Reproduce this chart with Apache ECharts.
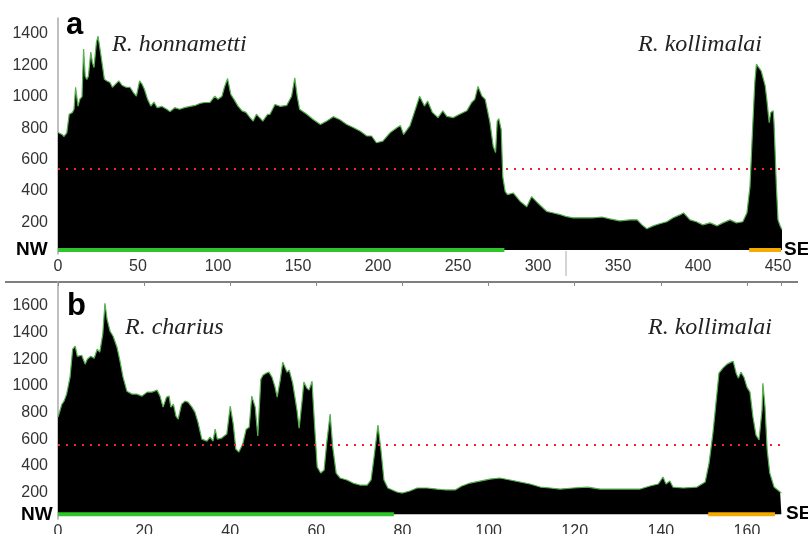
<!DOCTYPE html>
<html>
<head>
<meta charset="utf-8">
<script src="https://cdn.jsdelivr.net/npm/echarts@6/dist/echarts.min.js"></script>
<style>html,body{margin:0;padding:0;background:#fff;}#c{width:808px;height:534px;}</style>
</head>
<body>
<div id="c"></div>
<script>
// ---- Panel a (top) ----
const topX = [0,2.5,3.75,5.5,7,9,10,11,12.5,13.7,15,16,17,18,19,20.5,21.5,22.5,24,25,26,27.5,29,30.6,32.5,34,36,38,40,42.5,45,47,49,51,52.5,54,56,58,60,62,65,68,70,73,76,79,82.5,86,89,92,95,98,100,102.5,104,106,108,110,112.5,115,117.5,120,122,124,126,128,131,132.5,135.6,139,143,146,148,149.5,151,155.5,159.5,164,168,172,176,180.5,184.5,189,193,196,199,203,207.5,212,214,216,220,224,226,229,231,234,237.5,240.5,243,247,251,255.5,258.5,260.5,262.5,265,267,268,270,272,273.5,274.5,275.5,277,278,279.5,281,284.5,289,293,296,299,301,305.5,309,314,318,322,328,334,340,345,351,357.5,362,365,368,372,376,380.5,384.5,389,391,395,399,403,407.5,412,415.5,420,424,428,430.6,432.5,434,435.5,436.5,438,439.5,440.5,442,443,444.5,445.5,447,447.5,449,450,451.5,452.5];
const topY = [772,760,747,770,888,900,920,1060,940,985,1000,1303,1130,1110,1130,1284,1216,1185,1345,1384,1320,1216,1110,1100,1090,1060,1080,1100,1073,1060,1060,1028,1003,1100,1080,1047,983,940,965,930,938,920,905,930,920,930,938,945,958,963,963,1003,983,1003,1060,1115,1015,983,940,910,900,867,845,888,867,845,888,888,950,938,945,1003,1120,1003,920,888,855,823,845,873,855,823,804,780,750,750,707,717,770,804,816,760,816,940,1003,940,972,900,867,910,875,867,888,910,963,983,1065,1003,983,995,835,685,645,845,860,790,490,397,377,388,333,300,365,333,313,270,262,250,237,230,230,230,235,223,211,217,217,185,160,179,192,205,230,250,262,217,205,185,198,179,198,217,198,205,262,430,770,1090,1207,1185,1163,1170,1068,983,835,900,910,835,430,217,175,155];
const topYTicks = {min: 0, max: 1500, interval: 200};
const topXTicks = {min: 0, max: 452.5, interval: 50};
const topThreshold = 540;
const topGreen = [0, 279];
const topOrange = [432, 452];

// ---- Panel b (bottom) ----
const botX = [0,0.9,1.4,2,2.8,3.4,4,4.5,5.5,6.3,6.8,7.6,8.4,9.1,9.7,10.4,10.9,11.4,12.1,12.8,13.7,14.4,15.1,16,17.2,18.3,19.5,20.7,21.8,23,23.7,24.4,25.2,25.8,26.2,26.8,27.4,27.9,28.7,29.5,30.2,31.1,31.8,32.5,33.4,34.6,35.3,36,36.5,37,38,39.2,40,40.7,41.3,42,42.9,43.7,44.4,45,45.8,46.4,47.1,47.6,48.3,49,49.7,50.4,50.9,51.6,52.2,52.7,53.2,53.7,54.5,55.5,56,56.7,57.1,57.8,58.3,59,59.2,59.7,60.2,61,61.8,62.4,63.2,63.8,64.6,65.5,67.1,68.5,70.1,71.8,72.7,73.4,74.3,75,75.7,76.6,78.7,80,81.7,83.4,85.7,88,90.3,92.2,93.8,95.7,98,100.3,102.6,105,107.3,109.6,111.2,112,114.3,116.6,119.6,123,125.9,128.9,132.1,135.2,137.5,139.4,140.5,141.2,142.1,142.8,145.2,148.4,150.3,151.2,152.1,152.8,153.5,154.4,155.4,156.3,156.8,157.5,158,158.6,159.3,160,160.7,161.4,162.1,162.8,163.5,163.7,164.2,164.7,165.3,166.3,167.7,168];
const botY = [765,862,885,938,1065,1275,1298,1222,1230,1163,1200,1222,1207,1275,1253,1388,1620,1500,1410,1373,1290,1185,1065,960,938,938,923,953,953,968,923,840,915,923,840,862,773,750,862,885,878,840,803,728,600,585,615,585,675,600,608,638,848,713,525,503,563,675,690,923,840,623,1050,1080,1095,1103,1065,990,915,1043,1178,1140,1103,1118,1020,818,683,893,1028,983,968,1035,915,645,390,345,368,570,788,540,345,308,293,270,255,255,293,465,705,518,293,233,203,195,210,233,233,225,218,218,248,270,285,300,308,293,278,263,248,240,233,225,233,240,225,225,225,225,248,263,315,263,285,240,233,240,278,420,645,870,1095,1133,1163,1178,1185,1095,1058,1103,1065,990,953,765,630,593,818,1020,840,518,345,240,203,195];
const botYTicks = {min: 0, max: 1780, interval: 200};
const botXTicks = {min: 0, max: 168, interval: 20};
const botThreshold = 555;
const botGreen = [0, 78];
const botOrange = [151, 166.5];

const topBase = 25, botBase = 35;

function zip(xs, ys) { return xs.map((x, i) => [x, ys[i]]); }

const chart = echarts.init(document.getElementById('c'), null, {renderer: 'canvas'});
const lblFont = {fontFamily: 'Liberation Sans, Arial, sans-serif', fontSize: 16, color: '#333',
  formatter: function (v) { return String(v); }};
const GREEN_EDGE = '#56b04f';
const BAR_GREEN = '#2fc52b';
const BAR_ORANGE = '#f5aa00';

function yAxisCfg(grid, t) {
  return {type: 'value', gridIndex: grid, min: t.min, max: t.max, interval: t.interval,
    axisLine: {show: true, lineStyle: {color: '#aaa', width: 1.5}},
    axisTick: {show: false}, splitLine: {show: false},
    axisLabel: Object.assign({margin: 10, showMinLabel: false, showMaxLabel: false}, lblFont)};
}
function xAxisCfg(grid, t, margin) {
  return {type: 'value', gridIndex: grid, min: t.min, max: t.max, interval: t.interval,
    axisLine: {show: false}, axisTick: {show: false}, splitLine: {show: false},
    axisLabel: Object.assign({margin: margin, showMaxLabel: false}, lblFont)};
}
function areaSeries(xi, yi, data, base, thr) {
  return {type: 'line', xAxisIndex: xi, yAxisIndex: yi, data: data, symbol: 'none', showSymbol: false,
    lineStyle: {color: GREEN_EDGE, width: 1.2}, areaStyle: {color: '#000', opacity: 1, origin: base},
    z: 2,
    markLine: {silent: true, symbol: ['none', 'none'], label: {show: false},
      lineStyle: {color: '#e62a2a', type: [2, 6], width: 2}, data: [{yAxis: thr}]}};
}
function barSeries(xi, yi, range, base, color) {
  return {type: 'line', xAxisIndex: xi, yAxisIndex: yi, data: [[range[0], base], [range[1], base]],
    symbol: 'none', lineStyle: {color: color, width: 4}, z: 5};
}
function txt(x, y, s, font, color) {
  return {type: 'text', x: x, y: y, style: {text: s, font: font, fill: color || '#222',
    textVerticalAlign: 'middle', verticalAlign: 'middle', textAlign: 'left', align: 'left'}};
}

const serif = 'italic 24px "Liberation Serif", "Times New Roman", serif';
const boldLetter = 'bold 31px "Liberation Sans", Arial, sans-serif';
const boldDir = 'bold 19px "Liberation Sans", Arial, sans-serif';

chart.setOption({
  animation: false,
  backgroundColor: '#fff',
  grid: [
    {left: 58, top: 18, width: 724, height: 236, outerBoundsMode: 'none', containLabel: false},
    {left: 58, top: 282, width: 723.4, height: 237, outerBoundsMode: 'none', containLabel: false}
  ],
  xAxis: [
    xAxisCfg(0, topXTicks, 5),
    xAxisCfg(1, botXTicks, 5),
    {type: 'value', gridIndex: 1, position: 'top', min: botXTicks.min, max: botXTicks.max, interval: botXTicks.interval,
      axisLine: {show: false}, axisLabel: {show: false}, splitLine: {show: false},
      axisTick: {show: true, inside: true, length: 4, lineStyle: {color: '#888'}}}
  ],
  yAxis: [yAxisCfg(0, topYTicks), yAxisCfg(1, botYTicks)],
  series: [
    areaSeries(0, 0, zip(topX, topY), topBase, topThreshold),
    barSeries(0, 0, topGreen, topBase, BAR_GREEN),
    barSeries(0, 0, topOrange, topBase, BAR_ORANGE),
    areaSeries(1, 1, zip(botX, botY), botBase, botThreshold),
    barSeries(1, 1, botGreen, botBase, BAR_GREEN),
    barSeries(1, 1, botOrange, botBase, BAR_ORANGE)
  ],
  graphic: [
    {type: 'line', shape: {x1: 5, y1: 282, x2: 798, y2: 282}, style: {stroke: '#555', lineWidth: 1.5}},
    {type: 'line', shape: {x1: 566, y1: 251, x2: 566, y2: 276}, style: {stroke: '#aaa', lineWidth: 1}},
    txt(66, 25, 'a', boldLetter, '#000'),
    txt(67, 306, 'b', boldLetter, '#000'),
    txt(112, 45, 'R. honnametti', serif),
    txt(638, 45, 'R. kollimalai', serif),
    txt(125, 328, 'R. charius', serif),
    txt(648, 328, 'R. kollimalai', serif),
    txt(16, 250, 'NW', boldDir, '#000'),
    txt(784, 250, 'SE', boldDir, '#000'),
    txt(21, 515, 'NW', boldDir, '#000'),
    txt(786, 514, 'SE', boldDir, '#000')
  ]
});
</script>
</body>
</html>
